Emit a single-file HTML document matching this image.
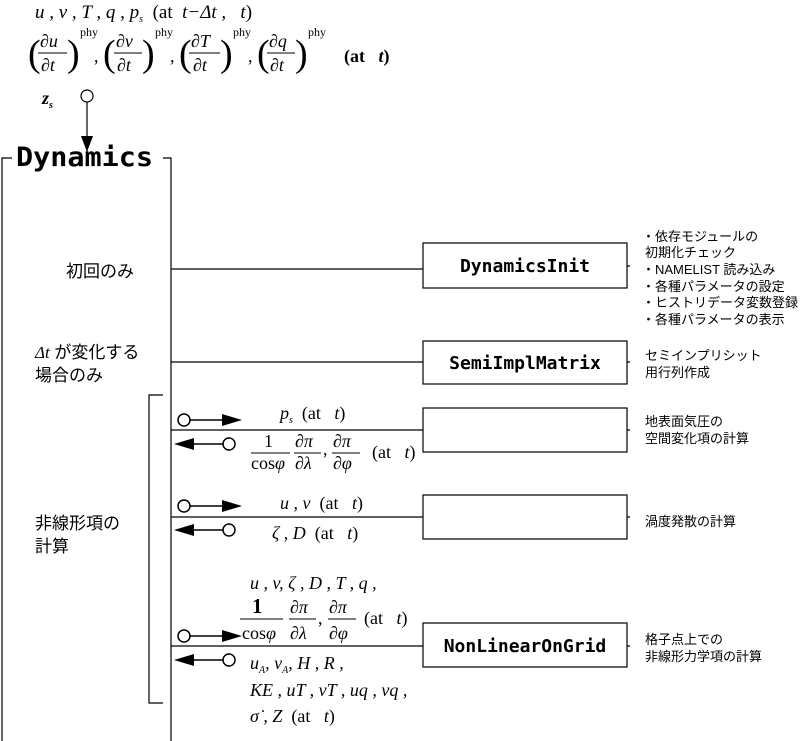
<!DOCTYPE html>
<html><head><meta charset="utf-8"><style>
html,body{margin:0;padding:0;background:#fff;}
svg{display:block}
text,tspan{white-space:pre}
.m{font-family:"Liberation Serif",serif;font-style:italic;font-size:18px}
.r{font-family:"Liberation Serif",serif;font-size:18px}
.j{font-family:"Liberation Sans","Noto Sans CJK JP",sans-serif;font-size:17px}
.js{font-family:"Liberation Sans","Noto Sans CJK JP",sans-serif;font-size:13px}
.c{font-family:"DejaVu Sans Mono","Liberation Mono",monospace;font-weight:bold;font-size:17px}
</style></head><body>
<svg width="802" height="741" viewBox="0 0 802 741" xmlns="http://www.w3.org/2000/svg">
<g stroke="#000" stroke-width="1.2" fill="none">
<path d="M12,158H2V741"/>
<path d="M163,158H171V741"/>
<path d="M163,395H149V703H163"/>
<path d="M171,269H423M171,362H423M171,430H423M171,517H423M171,646H423"/>
<rect x="423" y="243" width="204" height="45"/>
<rect x="423" y="341" width="204" height="43"/>
<rect x="423" y="408" width="204" height="44"/>
<rect x="423" y="495" width="204" height="44"/>
<rect x="423" y="623" width="204" height="44"/>
<path d="M627,266H630M627,362H630M627,430H630M627,517H630M627,646H630"/>
<circle cx="87" cy="96" r="6"/>
<path d="M87,102V152"/>
</g>
<path d="M81,136L87,152L93,136z" fill="#000"/>
<g stroke="#000" stroke-width="1.5" fill="#fff">
<circle cx="184" cy="420" r="6"/><circle cx="229" cy="444" r="6"/>
<circle cx="184" cy="506" r="6"/><circle cx="229" cy="530" r="6"/>
<circle cx="184" cy="636" r="6"/><circle cx="229" cy="660" r="6"/>
</g>
<g stroke="#000" stroke-width="1.5">
<path d="M190,420H225M223,444H190M190,506H225M223,530H190M190,636H225M223,660H190"/>
</g>
<g fill="#000">
<path d="M222,414L242,420L222,426z"/><path d="M194,438L174,444L194,450z"/>
<path d="M222,500L242,506L222,512z"/><path d="M194,524L174,530L194,536z"/>
<path d="M222,630L242,636L222,642z"/><path d="M194,654L174,660L194,666z"/>
</g>
<text x="35" y="18" class="m" style="font-size:19px">u , v , T , q , p<tspan font-size="10" dy="4">s</tspan><tspan dy="-4" font-style="normal">  (at  </tspan>t−Δt ,   t<tspan font-style="normal">)</tspan></text>
<g class="r">
<text x="28" y="66" style="font-size:38px" font-weight="normal">(</text>
<text x="40" y="47" class="m">∂u</text><line x1="38" y1="53" x2="67" y2="53" stroke="#000"/><text x="41" y="71" class="m">∂t</text>
<text x="67" y="66" style="font-size:38px">)</text><text x="80" y="36" style="font-size:12px">phy</text><text x="94" y="62">,</text>
<text x="103" y="66" style="font-size:38px">(</text>
<text x="116" y="47" class="m">∂v</text><line x1="114" y1="53" x2="142" y2="53" stroke="#000"/><text x="117" y="71" class="m">∂t</text>
<text x="142" y="66" style="font-size:38px">)</text><text x="155" y="36" style="font-size:12px">phy</text><text x="170" y="62">,</text>
<text x="179" y="66" style="font-size:38px">(</text>
<text x="191" y="47" class="m">∂T</text><line x1="189" y1="53" x2="220" y2="53" stroke="#000"/><text x="193" y="71" class="m">∂t</text>
<text x="220" y="66" style="font-size:38px">)</text><text x="233" y="36" style="font-size:12px">phy</text><text x="248" y="62">,</text>
<text x="257" y="66" style="font-size:38px">(</text>
<text x="269" y="47" class="m">∂q</text><line x1="267" y1="53" x2="295" y2="53" stroke="#000"/><text x="270" y="71" class="m">∂t</text>
<text x="295" y="66" style="font-size:38px">)</text><text x="308" y="36" style="font-size:12px">phy</text>
<text x="344" y="62" font-weight="bold">(at   <tspan font-style="italic">t</tspan>)</text>
</g>
<text x="42" y="104" class="m" font-weight="bold">z<tspan font-size="10" dy="4">s</tspan></text>
<text x="16" y="166" class="c" style="font-size:27px" textLength="137" lengthAdjust="spacingAndGlyphs">Dynamics</text>
<text x="66" y="277" class="j">初回のみ</text>
<text x="35" y="358" class="j"><tspan font-style="italic" font-family="Liberation Serif">Δt</tspan> が変化する</text>
<text x="35" y="381" class="j">場合のみ</text>
<text x="35" y="529" class="j">非線形項の</text>
<text x="35" y="552" class="j">計算</text>
<text x="525" y="272" class="c" text-anchor="middle" style="font-size:18px">DynamicsInit</text>
<text x="525" y="369" class="c" text-anchor="middle" style="font-size:18px">SemiImplMatrix</text>
<text x="525" y="652" class="c" text-anchor="middle" style="font-size:18px">NonLinearOnGrid</text>
<g class="js">
<text x="642" y="241">・依存モジュールの</text>
<text x="645" y="257">初期化チェック</text>
<text x="642" y="274">・NAMELIST 読み込み</text>
<text x="642" y="291">・各種パラメータの設定</text>
<text x="642" y="307">・ヒストリデータ変数登録</text>
<text x="642" y="324">・各種パラメータの表示</text>
<text x="645" y="360">セミインプリシット</text>
<text x="645" y="377">用行列作成</text>
<text x="645" y="426">地表面気圧の</text>
<text x="645" y="443">空間変化項の計算</text>
<text x="645" y="526">渦度発散の計算</text>
<text x="645" y="644">格子点上での</text>
<text x="645" y="661">非線形力学項の計算</text>
</g>
<text x="280" y="419" class="m">p<tspan font-size="10" dy="4">s</tspan><tspan dy="-4" font-style="normal">  (at   </tspan>t<tspan font-style="normal">)</tspan></text>
<g class="r">
<text x="264" y="447">1</text><line x1="251" y1="453" x2="290" y2="453" stroke="#000"/><text x="251" y="469">cos<tspan font-style="italic">φ</tspan></text>
<text x="295" y="447" class="m">∂π</text><line x1="294" y1="453" x2="321" y2="453" stroke="#000"/><text x="295" y="469" class="m">∂λ</text>
<text x="323" y="455">,</text>
<text x="333" y="447" class="m">∂π</text><line x1="332" y1="453" x2="360" y2="453" stroke="#000"/><text x="333" y="469" class="m">∂φ</text>
<text x="372" y="458">(at   <tspan font-style="italic">t</tspan>)</text>
</g>
<text x="280" y="509" class="m">u , v<tspan font-style="normal">  (at   </tspan>t<tspan font-style="normal">)</tspan></text>
<text x="272" y="539" class="m">ζ , D<tspan font-style="normal">  (at   </tspan>t<tspan font-style="normal">)</tspan></text>
<text x="250" y="589" class="m">u , v, ζ , D , T , q ,</text>
<g class="r">
<text x="252" y="613" font-weight="bold" style="font-size:21px">1</text><line x1="240" y1="619" x2="283" y2="619" stroke="#000"/><text x="242" y="639">cos<tspan font-style="italic">φ</tspan></text>
<text x="290" y="613" class="m">∂π</text><line x1="289" y1="619" x2="316" y2="619" stroke="#000"/><text x="290" y="639" class="m">∂λ</text>
<text x="318" y="624">,</text>
<text x="329" y="613" class="m">∂π</text><line x1="328" y1="619" x2="356" y2="619" stroke="#000"/><text x="329" y="639" class="m">∂φ</text>
<text x="364" y="624">(at   <tspan font-style="italic">t</tspan>)</text>
</g>
<text x="250" y="669" class="m">u<tspan font-size="10" dy="4">A</tspan><tspan dy="-4">, v</tspan><tspan font-size="10" dy="4">A</tspan><tspan dy="-4">, H , R ,</tspan></text>
<text x="250" y="696" class="m">KE , uT , vT , uq , vq ,</text>
<text x="250" y="722" class="m">σ̇ , Z<tspan font-style="normal">  (at   </tspan>t<tspan font-style="normal">)</tspan></text>
</svg>
</body></html>
